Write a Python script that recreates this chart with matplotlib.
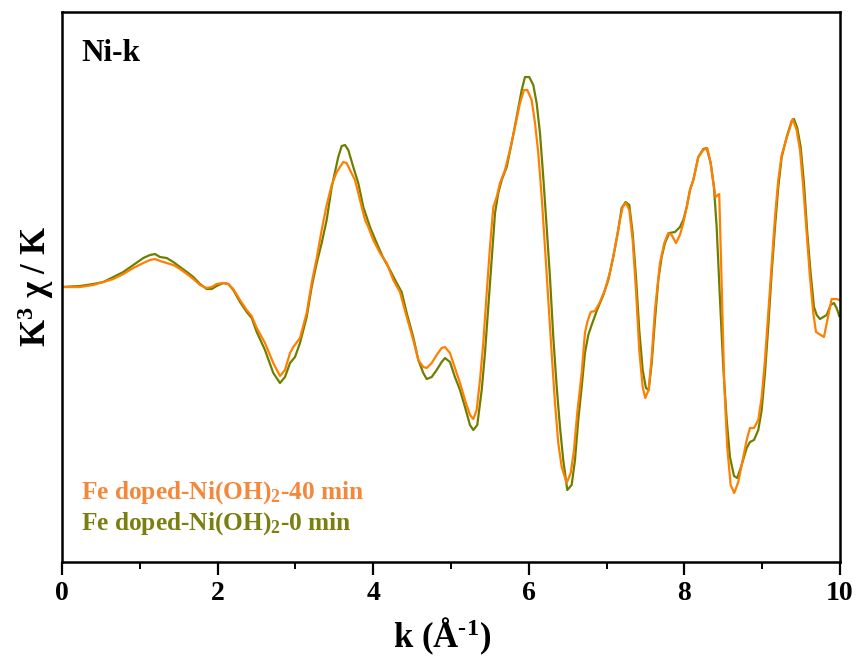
import matplotlib
matplotlib.use("Agg")
import matplotlib.pyplot as plt
from matplotlib.ticker import MultipleLocator

plt.rcParams['font.family'] = ['Liberation Serif', 'DejaVu Serif']
plt.rcParams['font.weight'] = 'bold'
plt.rcParams['mathtext.fontset'] = 'custom'
plt.rcParams['mathtext.rm'] = 'Liberation Serif:bold'
plt.rcParams['mathtext.bf'] = 'Liberation Serif:bold'
plt.rcParams['mathtext.it'] = 'Liberation Serif:bold'

# Fe doped-Ni(OH)2-0 min
k_0min = [0.00, 0.231, 0.402, 0.531, 0.659, 0.788, 0.916, 1.045, 1.131, 1.195, 1.260, 1.346,
          1.431, 1.517, 1.623, 1.688, 1.774, 1.860, 1.924, 1.988, 2.073, 2.138, 2.202, 2.288,
          2.374, 2.438, 2.503, 2.609, 2.716, 2.802, 2.866, 2.931, 2.995, 3.059, 3.145, 3.209,
          3.274, 3.338, 3.402, 3.467, 3.551, 3.595, 3.638, 3.680, 3.744, 3.808, 3.873, 3.959,
          4.045, 4.130, 4.216, 4.302, 4.366, 4.431, 4.515, 4.580, 4.644, 4.688, 4.752, 4.816,
          4.880, 4.923, 4.987, 5.051, 5.116, 5.180, 5.244, 5.287, 5.338, 5.395, 5.437, 5.479,
          5.523, 5.566, 5.608, 5.652, 5.716, 5.780, 5.844, 5.909, 5.951, 6.006, 6.058, 6.101,
          6.144, 6.186, 6.230, 6.272, 6.315, 6.359, 6.401, 6.443, 6.495, 6.551, 6.594, 6.636,
          6.680, 6.722, 6.765, 6.808, 6.873, 6.958, 7.022, 7.086, 7.150, 7.194, 7.245, 7.292,
          7.335, 7.378, 7.420, 7.464, 7.506, 7.541, 7.580, 7.622, 7.665, 7.708, 7.751, 7.806,
          7.879, 7.943, 7.986, 8.030, 8.072, 8.115, 8.179, 8.243, 8.287, 8.338, 8.380, 8.415,
          8.458, 8.500, 8.544, 8.586, 8.638, 8.680, 8.736, 8.801, 8.843, 8.895, 8.950, 8.994,
          9.036, 9.078, 9.122, 9.165, 9.207, 9.251, 9.315, 9.379, 9.409, 9.451, 9.495, 9.537,
          9.580, 9.623, 9.666, 9.701, 9.743, 9.829, 9.880, 9.923, 9.957, 9.991]
chi_0min = [0.00, 0.01, 0.03, 0.05, 0.10, 0.15, 0.22, 0.29, 0.32, 0.33, 0.30, 0.29,
            0.25, 0.20, 0.14, 0.10, 0.03, -0.02, -0.02, 0.01, 0.04, 0.03, -0.03, -0.15,
            -0.25, -0.31, -0.45, -0.63, -0.86, -0.96, -0.90, -0.76, -0.70, -0.56, -0.30, 0.00,
            0.24, 0.44, 0.67, 1.00, 1.30, 1.41, 1.42, 1.37, 1.20, 1.04, 0.80, 0.60,
            0.44, 0.29, 0.17, 0.04, -0.05, -0.26, -0.50, -0.73, -0.86, -0.92, -0.90, -0.83,
            -0.75, -0.71, -0.75, -0.90, -1.03, -1.20, -1.38, -1.43, -1.38, -1.03, -0.66, -0.20,
            0.27, 0.74, 0.94, 1.07, 1.20, 1.44, 1.70, 1.97, 2.10, 2.10, 2.02, 1.84,
            1.54, 1.10, 0.60, 0.10, -0.50, -1.00, -1.40, -1.73, -2.03, -1.98, -1.73, -1.33,
            -1.00, -0.66, -0.48, -0.38, -0.24, -0.08, 0.07, 0.30, 0.57, 0.79, 0.85, 0.82,
            0.54, 0.10, -0.43, -0.83, -1.01, -1.03, -0.76, -0.33, 0.07, 0.30, 0.44, 0.54,
            0.55, 0.60, 0.67, 0.80, 0.97, 1.07, 1.30, 1.38, 1.39, 1.24, 1.00, 0.60,
            -0.13, -0.80, -1.33, -1.70, -1.89, -1.91, -1.78, -1.61, -1.55, -1.53, -1.43, -1.23,
            -0.86, -0.40, 0.14, 0.60, 1.00, 1.30, 1.50, 1.66, 1.68, 1.59, 1.40, 1.04,
            0.54, 0.14, -0.20, -0.28, -0.32, -0.28, -0.18, -0.16, -0.21, -0.29]

# Fe doped-Ni(OH)2-40 min
k_40min = [0.00, 0.231, 0.402, 0.531, 0.659, 0.788, 0.916, 1.045, 1.131, 1.195, 1.260, 1.346,
           1.431, 1.517, 1.623, 1.688, 1.774, 1.860, 1.924, 1.988, 2.073, 2.138, 2.202, 2.288,
           2.374, 2.438, 2.503, 2.609, 2.716, 2.802, 2.866, 2.931, 2.973, 3.059, 3.145, 3.209,
           3.274, 3.338, 3.402, 3.467, 3.531, 3.616, 3.659, 3.702, 3.766, 3.830, 3.895, 3.937,
           4.001, 4.087, 4.174, 4.258, 4.344, 4.431, 4.515, 4.580, 4.644, 4.688, 4.752, 4.816,
           4.880, 4.923, 4.987, 5.051, 5.116, 5.180, 5.244, 5.287, 5.330, 5.373, 5.415, 5.459,
           5.501, 5.544, 5.587, 5.630, 5.694, 5.758, 5.823, 5.887, 5.938, 5.981, 6.037, 6.080,
           6.122, 6.166, 6.208, 6.251, 6.294, 6.337, 6.379, 6.423, 6.487, 6.539, 6.581, 6.623,
           6.680, 6.722, 6.752, 6.796, 6.851, 6.915, 6.979, 7.044, 7.108, 7.172, 7.207, 7.249,
           7.292, 7.335, 7.378, 7.420, 7.464, 7.497, 7.541, 7.580, 7.622, 7.686, 7.742, 7.793,
           7.837, 7.892, 7.943, 7.986, 8.030, 8.072, 8.115, 8.179, 8.243, 8.294, 8.338, 8.380,
           8.402, 8.448, 8.479, 8.512, 8.551, 8.595, 8.641, 8.693, 8.749, 8.801, 8.843, 8.895,
           8.950, 8.994, 9.036, 9.078, 9.122, 9.165, 9.207, 9.251, 9.315, 9.392, 9.443, 9.486,
           9.528, 9.572, 9.614, 9.657, 9.692, 9.794, 9.893, 9.957, 9.991]
chi_40min = [0.00, 0.00, 0.02, 0.05, 0.08, 0.13, 0.19, 0.24, 0.27, 0.28, 0.26, 0.24,
             0.22, 0.18, 0.12, 0.08, 0.02, -0.01, 0.00, 0.03, 0.04, 0.03, -0.02, -0.13,
             -0.23, -0.29, -0.41, -0.56, -0.76, -0.89, -0.83, -0.66, -0.60, -0.51, -0.26, 0.04,
             0.29, 0.57, 0.82, 1.02, 1.15, 1.25, 1.24, 1.17, 1.07, 0.87, 0.67, 0.60,
             0.47, 0.34, 0.24, 0.07, -0.05, -0.30, -0.53, -0.73, -0.80, -0.81, -0.76, -0.68,
             -0.61, -0.60, -0.66, -0.81, -0.96, -1.13, -1.28, -1.32, -1.23, -0.93, -0.56, -0.06,
             0.40, 0.80, 0.90, 1.04, 1.17, 1.37, 1.60, 1.84, 1.97, 1.97, 1.87, 1.64,
             1.34, 0.90, 0.40, -0.13, -0.66, -1.16, -1.56, -1.80, -1.96, -1.86, -1.63, -1.26,
             -0.86, -0.46, -0.35, -0.25, -0.24, -0.15, -0.03, 0.15, 0.39, 0.67, 0.80, 0.84,
             0.77, 0.47, -0.03, -0.63, -1.00, -1.11, -1.03, -0.70, -0.23, 0.24, 0.44, 0.54,
             0.52, 0.44, 0.52, 0.64, 0.80, 0.97, 1.07, 1.30, 1.37, 1.39, 1.24, 1.00,
             0.90, 0.93, 0.04, -0.96, -1.60, -1.98, -2.06, -1.95, -1.73, -1.53, -1.41, -1.41,
             -1.33, -1.10, -0.73, -0.26, 0.24, 0.70, 1.07, 1.32, 1.49, 1.68, 1.57, 1.37,
             1.00, 0.54, 0.10, -0.26, -0.45, -0.50, -0.12, -0.12, -0.13]

label_40 = r'Fe doped-Ni(OH)$_{2}$-40 min'
label_0 = r'Fe doped-Ni(OH)$_{2}$-0 min'
xticks = [0, 2, 4, 6, 8, 10]

c_orange = '#FF8000'
c_olive = '#6E7F00'

fig = plt.figure(figsize=(8.6, 6.57), dpi=100)
ax = fig.add_axes([0.0721, 0.1446, 0.9046, 0.8371])

ax.plot(k_0min, chi_0min, color=c_olive, lw=1.6)
ax.plot(k_40min, chi_40min, color=c_orange, lw=1.6)

ax.set_xlim(0, 10)
ax.set_ylim(-2.75, 2.75)
ax.set_xticks(xticks)
ax.xaxis.set_minor_locator(MultipleLocator(1))
ax.set_yticks([])
ax.tick_params(axis='x', which='major', direction='out', length=9, width=1.6,
               labelsize=20, pad=5)
ax.tick_params(axis='x', which='minor', direction='out', length=5, width=1.4)
for lab in ax.get_xticklabels():
    lab.set_fontweight('bold')
for sp in ax.spines.values():
    sp.set_linewidth(1.8)

ax.set_xlabel(r'k (Å$^{\text{-}1}$)', fontsize=25, fontweight='bold')
ax.xaxis.set_label_coords(0.488, -0.097)
ax.set_ylabel(r'K$^{3}$ χ / K', fontsize=25, fontweight='bold', labelpad=4)

ax.text(0.025, 0.925, 'Ni-k', transform=ax.transAxes, fontsize=22.5,
        fontweight='bold', ha='left', va='center')
ax.text(0.025, 0.127, label_40, transform=ax.transAxes, fontsize=18.3,
        fontweight='bold', color='#F5873A', ha='left', va='center')
ax.text(0.025, 0.069, label_0, transform=ax.transAxes, fontsize=18.3,
        fontweight='bold', color='#7A7F10', ha='left', va='center')

fig.savefig('out.png', dpi=100)
